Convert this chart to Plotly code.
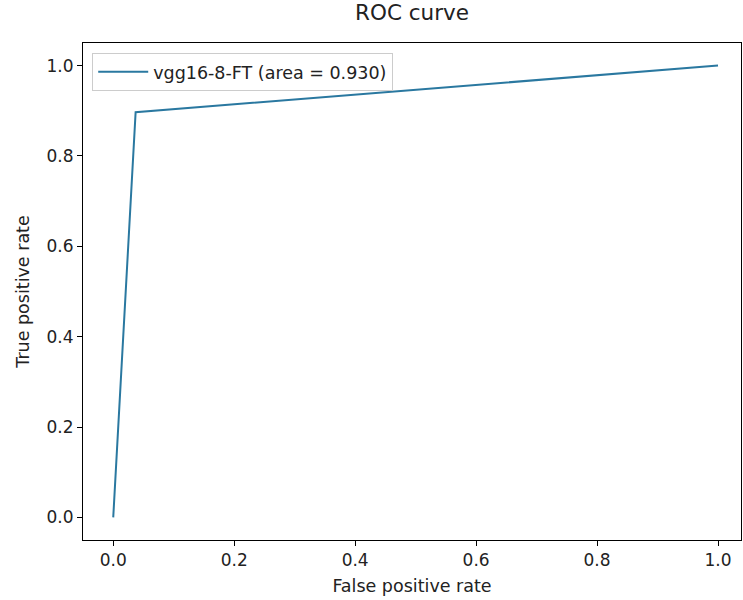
import plotly.graph_objects as go

fpr = [0.0, 0.037, 1.0]
tpr = [0.0, 0.897, 1.0]
series_name = "vgg16-8-FT (area = 0.930)"
tick_vals = [0.0, 0.2, 0.4, 0.6, 0.8, 1.0]
tick_text = ["0.0", "0.2", "0.4", "0.6", "0.8", "1.0"]

FONT = "DejaVu Sans"
TXT = "#222222"

fig = go.Figure()
fig.add_trace(go.Scatter(x=fpr, y=tpr, mode="lines", name=series_name,
                         line=dict(color="#2a78a0", width=2)))

fig.update_layout(
    width=743, height=600,
    margin=dict(l=83, r=2, t=43, b=60),
    paper_bgcolor="white", plot_bgcolor="white",
    font=dict(family=FONT, size=17, color=TXT),
    title=dict(text="ROC curve", x=0.5, xref="paper", y=0.98, yref="container",
               xanchor="center", yanchor="middle", font=dict(size=21.5, family=FONT, color=TXT)),
    showlegend=True,
    legend=dict(x=0.014, y=0.98, xanchor="left", yanchor="top", itemwidth=50,
                bgcolor="rgba(255,255,255,0.8)", bordercolor="#cccccc", borderwidth=1,
                font=dict(size=17.5, family=FONT, color=TXT)),
)
fig.update_xaxes(range=[-0.05, 1.038], tickvals=tick_vals, ticktext=tick_text,
                 showgrid=False, zeroline=False, showline=True, linecolor="black",
                 linewidth=1, mirror=True, ticks="outside", ticklen=5, tickcolor="black",
                 tickfont=dict(size=17, family=FONT, color=TXT),
                 title=dict(text="False positive rate", standoff=10,
                            font=dict(size=17.5, family=FONT, color=TXT)))
fig.update_yaxes(range=[-0.05, 1.05], tickvals=tick_vals, ticktext=tick_text,
                 showgrid=False, zeroline=False, showline=True, linecolor="black",
                 linewidth=1, mirror=True, ticks="outside", ticklen=5, tickcolor="black",
                 tickfont=dict(size=17, family=FONT, color=TXT),
                 title=dict(text="True positive rate", standoff=12,
                            font=dict(size=17.5, family=FONT, color=TXT)))

fig.write_html("out.html")
